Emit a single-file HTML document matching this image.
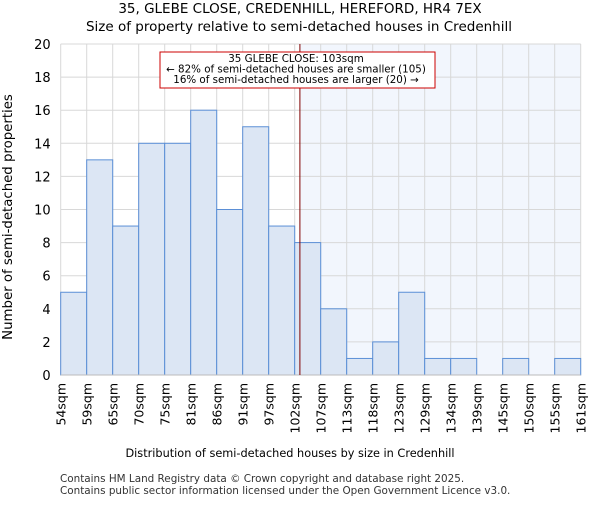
<!DOCTYPE html>
<html><head><meta charset="utf-8"><style>
body{margin:0;background:#fff;}
svg{font-family:"DejaVu Sans","Liberation Sans",sans-serif;}
</style></head><body>
<svg id="c" width="600" height="500" xmlns="http://www.w3.org/2000/svg">
<text x="300" y="13" text-anchor="middle" font-size="13.5">35, GLEBE CLOSE, CREDENHILL, HEREFORD, HR4 7EX</text>
<text x="299" y="31" text-anchor="middle" font-size="13.5">Size of property relative to semi-detached houses in Credenhill</text>
<g id="plot"></g>
<text x="290" y="457" text-anchor="middle" font-size="11.3">Distribution of semi-detached houses by size in Credenhill</text>
<text transform="translate(12,217) rotate(-90)" text-anchor="middle" font-size="13.3">Number of semi-detached properties</text>
<text x="60" y="482" font-size="10.4" fill="#333">Contains HM Land Registry data © Crown copyright and database right 2025.</text>
<text x="60" y="494" font-size="10.4" fill="#333">Contains public sector information licensed under the Open Government Licence v3.0.</text>
</svg>
<script>
const categories=["54sqm","59sqm","65sqm","70sqm","75sqm","81sqm","86sqm","91sqm","97sqm","102sqm","107sqm","113sqm","118sqm","123sqm","129sqm","134sqm","139sqm","145sqm","150sqm","155sqm","161sqm"];
const counts=[5,13,9,14,14,16,10,15,9,8,4,1,2,5,1,1,0,1,0,1];
const yTicks=[0,2,4,6,8,10,12,14,16,18,20];
const markerBin=9.2;
const NS="http://www.w3.org/2000/svg";
const g=document.getElementById('plot');
const L=60.7,R=580.7,T=44,B=375,bw=(R-L)/counts.length;
const xs=i=>L+i*bw, ys=v=>B-(v/20)*(B-T);
function mk(t,a){const e=document.createElementNS(NS,t);for(const k in a)e.setAttribute(k,a[k]);g.appendChild(e);return e;}
const mx=xs(markerBin);
let e=mk('rect',{x:mx,y:T,width:R-mx,height:B-T,fill:'#f2f6fd'});


yTicks.forEach(v=>{
 let l=mk('line',{x1:L,x2:R,y1:ys(v),y2:ys(v),stroke:'#d8d8d8','stroke-width':1});
 
 
 let t=mk('text',{x:L-10,y:ys(v)+5,'text-anchor':'end','font-size':'13'});t.textContent=v;
 
 
});
categories.forEach((c,i)=>{
 let l=mk('line',{x1:xs(i),x2:xs(i),y1:T,y2:B,stroke:'#d8d8d8','stroke-width':1});
 
 
 let t=mk('text',{transform:`translate(${xs(i)+5},${B+8}) rotate(-90)`,'text-anchor':'end','font-size':'12.5'});t.textContent=c;
 
 
});
counts.forEach((v,i)=>{
 if(v<=0)return;
 let r=mk('rect',{x:xs(i),y:ys(v),width:bw,height:B-ys(v),fill:'#dce6f4',stroke:'#5b8fd6','stroke-width':1});
 
 
});
let a=mk('line',{x1:L,x2:R,y1:B,y2:B,stroke:'#bbb'});


let m=mk('line',{x1:mx,x2:mx,y1:T,y2:B,stroke:'#800000','stroke-width':1});


let box=mk('rect',{x:160,y:52,width:275,height:36,fill:'#fff',stroke:'#cc0000','stroke-width':1});


["35 GLEBE CLOSE: 103sqm","← 82% of semi-detached houses are smaller (105)","16% of semi-detached houses are larger (20) →"].forEach((s,i)=>{
 let t=mk('text',{x:296,y:62+i*10.5,'text-anchor':'middle','font-size':'10.3'});t.textContent=s;
 
 
});
</script>
</body></html>
